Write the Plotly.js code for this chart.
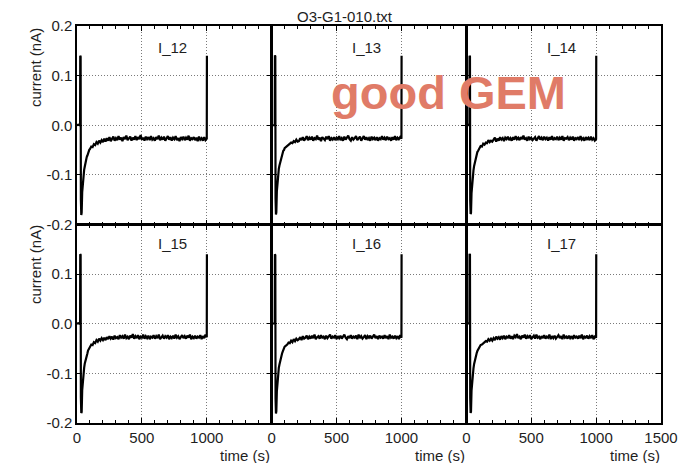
<!DOCTYPE html>
<html>
<head>
<meta charset="utf-8">
<script src="https://cdn.plot.ly/plotly-3.0.1.min.js"></script>
<style>html,body{margin:0;padding:0;background:#fff;}#chart{width:683px;height:463px;}</style>
</head>
<body>
<div id="chart"></div>
<script>
const panelNames = ["I_12", "I_13", "I_14", "I_15", "I_16", "I_17"];
const xTicksInner = [0, 500, 1000];
const xTicksLast = [0, 500, 1000, 1500];
const yTicksTop = [-0.2, -0.1, 0, 0.1, 0.2];
const yTickTextTop = ["-0.2", "-0.1", "0.0", "0.1", "0.2"];
const yTicksBottom = [-0.2, -0.1, 0, 0.1];
const yTickTextBottom = ["-0.2", "-0.1", "0.0", "0.1"];

const time = [0,10,20,24,25,28,30,33,36,40,45,50,55,60,65,70,75,80,85,90,95,100,110,120,130,140,150,160,170,180,190,200,
210,220,230,240,250,260,270,280,290,300,
310,320,330,340,350,360,370,380,390,400,
410,420,430,440,450,460,470,480,490,500,
510,520,530,540,550,560,570,580,590,600,
610,620,630,640,650,660,670,680,690,700,
710,720,730,740,750,760,770,780,790,800,
810,820,830,840,850,860,870,880,890,900,
910,920,930,940,950,960,970,980,990,1000,
1001];

const I_12 = [0.000,0.001,0.000,0.001,0.140,0.138,-0.150,-0.181,-0.176,-0.135,-0.112,-0.100,-0.090,-0.083,-0.074,-0.069,-0.064,-0.061,-0.055,-0.053,-0.049,-0.048,-0.043,-0.044,-0.038,-0.040,-0.034,-0.037,-0.031,-0.035,-0.030,-0.034,
-0.027,-0.033,-0.026,-0.031,-0.024,-0.032,-0.028,-0.023,-0.031,-0.026,
-0.030,-0.022,-0.029,-0.025,-0.032,-0.024,-0.028,-0.021,-0.030,-0.026,
-0.023,-0.031,-0.025,-0.029,-0.022,-0.030,-0.024,-0.028,-0.020,-0.029,
-0.025,-0.031,-0.023,-0.028,-0.024,-0.030,-0.022,-0.029,-0.026,-0.031,
-0.024,-0.028,-0.021,-0.030,-0.025,-0.029,-0.023,-0.031,-0.026,-0.022,
-0.029,-0.024,-0.031,-0.025,-0.028,-0.022,-0.030,-0.026,-0.032,-0.024,
-0.028,-0.023,-0.030,-0.025,-0.029,-0.021,-0.031,-0.026,-0.028,-0.024,
-0.030,-0.025,-0.032,-0.023,-0.029,-0.026,-0.031,-0.024,-0.030,-0.027,
0.140];

const I_13 = [0.000,0.000,0.001,0.000,0.141,0.139,-0.148,-0.180,-0.175,-0.133,-0.110,-0.099,-0.088,-0.081,-0.075,-0.067,-0.065,-0.059,-0.056,-0.051,-0.050,-0.046,-0.044,-0.041,-0.039,-0.037,-0.035,-0.036,-0.032,-0.034,-0.029,-0.033,
-0.032,-0.026,-0.030,-0.024,-0.031,-0.027,-0.022,-0.030,-0.025,-0.029,
-0.023,-0.031,-0.026,-0.028,-0.021,-0.029,-0.025,-0.032,-0.024,-0.027,
-0.030,-0.023,-0.028,-0.022,-0.031,-0.026,-0.029,-0.024,-0.030,-0.025,
-0.028,-0.022,-0.030,-0.026,-0.031,-0.023,-0.029,-0.025,-0.021,-0.028,
-0.031,-0.024,-0.029,-0.026,-0.022,-0.030,-0.027,-0.023,-0.031,-0.025,
-0.022,-0.029,-0.024,-0.030,-0.026,-0.031,-0.023,-0.028,-0.025,-0.030,
-0.024,-0.031,-0.026,-0.028,-0.022,-0.029,-0.025,-0.030,-0.023,-0.028,
-0.026,-0.031,-0.024,-0.029,-0.022,-0.030,-0.025,-0.028,-0.024,-0.027,
0.140];

const I_14 = [0.000,0.001,0.000,0.000,0.140,0.138,-0.152,-0.179,-0.177,-0.137,-0.114,-0.101,-0.091,-0.082,-0.076,-0.068,-0.063,-0.060,-0.054,-0.052,-0.050,-0.047,-0.042,-0.043,-0.037,-0.039,-0.035,-0.036,-0.030,-0.034,-0.031,-0.033,
-0.030,-0.025,-0.033,-0.027,-0.031,-0.024,-0.029,-0.026,-0.032,-0.025,
-0.028,-0.023,-0.030,-0.026,-0.031,-0.024,-0.029,-0.022,-0.028,-0.025,
-0.030,-0.024,-0.028,-0.021,-0.029,-0.026,-0.031,-0.023,-0.028,-0.025,
-0.030,-0.026,-0.024,-0.031,-0.027,-0.022,-0.029,-0.025,-0.030,-0.023,
-0.028,-0.025,-0.031,-0.024,-0.029,-0.022,-0.030,-0.026,-0.028,-0.023,
-0.030,-0.025,-0.029,-0.022,-0.031,-0.026,-0.027,-0.024,-0.030,-0.025,
-0.029,-0.023,-0.031,-0.026,-0.028,-0.024,-0.030,-0.022,-0.029,-0.026,
-0.031,-0.024,-0.028,-0.025,-0.030,-0.023,-0.029,-0.026,-0.031,-0.028,
0.140];

const I_15 = [0.000,0.001,0.000,0.001,0.140,0.139,-0.149,-0.180,-0.178,-0.134,-0.111,-0.098,-0.089,-0.080,-0.073,-0.068,-0.062,-0.060,-0.054,-0.052,-0.048,-0.047,-0.042,-0.043,-0.037,-0.039,-0.033,-0.036,-0.030,-0.034,-0.029,-0.033,
-0.028,-0.033,-0.027,-0.031,-0.025,-0.030,-0.026,-0.032,-0.024,-0.029,
-0.027,-0.031,-0.023,-0.028,-0.025,-0.030,-0.022,-0.029,-0.026,-0.031,
-0.024,-0.028,-0.021,-0.030,-0.025,-0.029,-0.023,-0.031,-0.026,-0.028,
-0.022,-0.030,-0.025,-0.029,-0.024,-0.031,-0.026,-0.028,-0.023,-0.030,
-0.025,-0.029,-0.022,-0.031,-0.027,-0.024,-0.030,-0.025,-0.028,-0.023,
-0.031,-0.026,-0.029,-0.024,-0.030,-0.022,-0.028,-0.025,-0.031,-0.026,
-0.023,-0.029,-0.025,-0.030,-0.024,-0.028,-0.022,-0.031,-0.026,-0.029,
-0.024,-0.030,-0.026,-0.028,-0.023,-0.031,-0.025,-0.029,-0.022,-0.027,
0.140];

const I_16 = [0.000,0.000,0.000,0.001,0.140,0.138,-0.151,-0.181,-0.176,-0.136,-0.113,-0.100,-0.089,-0.082,-0.075,-0.069,-0.063,-0.060,-0.056,-0.052,-0.050,-0.046,-0.044,-0.042,-0.038,-0.039,-0.034,-0.037,-0.031,-0.035,-0.030,-0.033,
-0.031,-0.027,-0.033,-0.025,-0.030,-0.028,-0.024,-0.031,-0.026,-0.030,
-0.024,-0.029,-0.022,-0.031,-0.027,-0.025,-0.030,-0.023,-0.028,-0.026,
-0.031,-0.024,-0.029,-0.025,-0.022,-0.030,-0.026,-0.028,-0.023,-0.031,
-0.025,-0.029,-0.024,-0.030,-0.026,-0.022,-0.028,-0.031,-0.025,-0.029,
-0.023,-0.030,-0.026,-0.028,-0.024,-0.031,-0.022,-0.029,-0.025,-0.030,
-0.027,-0.023,-0.031,-0.025,-0.028,-0.024,-0.030,-0.026,-0.022,-0.029,
-0.025,-0.031,-0.024,-0.028,-0.026,-0.030,-0.023,-0.029,-0.025,-0.031,
-0.022,-0.028,-0.026,-0.030,-0.024,-0.029,-0.025,-0.031,-0.023,-0.028,
0.140];

const I_17 = [0.000,0.001,0.001,0.000,0.141,0.139,-0.150,-0.180,-0.177,-0.135,-0.112,-0.099,-0.090,-0.081,-0.074,-0.068,-0.064,-0.059,-0.055,-0.053,-0.049,-0.047,-0.043,-0.042,-0.039,-0.038,-0.035,-0.036,-0.031,-0.034,-0.030,-0.034,
-0.029,-0.033,-0.026,-0.030,-0.027,-0.032,-0.025,-0.029,-0.024,-0.031,
-0.026,-0.028,-0.023,-0.030,-0.025,-0.031,-0.024,-0.027,-0.021,-0.029,
-0.026,-0.031,-0.024,-0.028,-0.022,-0.030,-0.025,-0.029,-0.023,-0.031,
-0.027,-0.024,-0.030,-0.022,-0.028,-0.026,-0.031,-0.025,-0.029,-0.023,
-0.030,-0.026,-0.028,-0.022,-0.031,-0.025,-0.029,-0.024,-0.030,-0.026,
-0.023,-0.029,-0.025,-0.031,-0.022,-0.028,-0.026,-0.030,-0.024,-0.029,
-0.025,-0.031,-0.023,-0.028,-0.026,-0.030,-0.024,-0.029,-0.022,-0.031,
-0.026,-0.028,-0.024,-0.030,-0.025,-0.029,-0.023,-0.031,-0.026,-0.028,
0.140];

const panelValues = [I_12, I_13, I_14, I_15, I_16, I_17];

// pixel helpers for placing text (plot area: x 77..661, y 26..423)
const L = 77, R = 22, T = 26, B = 40, W = 683, H = 463;
const pw = W - L - R, ph = H - T - B;
const px = v => (v - L) / pw;
const py = v => (H - B - v) / ph;

const FONT = "Liberation Sans, Arial, Helvetica, sans-serif";
const TXT = "#1e1e1e";
const GRID = "#7a7a7a";

const data = [];
const layout = {
  width: W, height: H,
  margin: {l: L, r: R, t: T, b: B},
  paper_bgcolor: "#fff", plot_bgcolor: "#fff",
  showlegend: false,
  font: {family: FONT, size: 15, color: TXT},
  annotations: []
};

for (let k = 0; k < 6; k++) {
  const c = k % 3, r = Math.floor(k / 3);
  const n = k + 1;
  data.push({
    type: "scatter", mode: "lines",
    x: time, y: panelValues[k],
    xaxis: "x" + n, yaxis: "y" + n,
    line: {color: "#000", width: 2.2},
    hoverinfo: "skip"
  });
  layout["xaxis" + n] = {
    domain: [c / 3, (c + 1) / 3],
    range: [0, 1500],
    anchor: "y" + n,
    tickmode: "array",
    tickvals: c < 2 ? xTicksInner : xTicksLast,
    showticklabels: r === 1,
    ticks: "inside", ticklen: 5, tickwidth: 1, tickcolor: "#000",
    minor: {ticks: "inside", dtick: 100, ticklen: 3, tickwidth: 1, tickcolor: "#000", showgrid: false},
    showline: true, linewidth: 1.6, linecolor: "#000", mirror: "ticks",
    showgrid: true, gridcolor: GRID, gridwidth: 1, griddash: "1px,2px",
    zeroline: false,
    tickfont: {family: FONT, size: 15, color: TXT},
    fixedrange: true
  };
  layout["yaxis" + n] = {
    domain: r === 0 ? [0.5, 1] : [0, 0.5],
    range: [-0.2, 0.2],
    anchor: "x" + n,
    tickmode: "array",
    tickvals: r === 0 ? yTicksTop : yTicksBottom,
    ticktext: r === 0 ? yTickTextTop : yTickTextBottom,
    showticklabels: c === 0,
    ticks: "inside", ticklen: 5, tickwidth: 1, tickcolor: "#000",
    showline: true, linewidth: 1.6, linecolor: "#000", mirror: "ticks",
    showgrid: true, gridcolor: GRID, gridwidth: 1, griddash: "1px,2px",
    zeroline: false,
    tickfont: {family: FONT, size: 15, color: TXT},
    fixedrange: true
  };
  // panel label
  layout.annotations.push({
    text: panelNames[k], xref: "paper", yref: "paper",
    x: c / 3 + px(172), y: r === 0 ? py(47) : py(243),
    xanchor: "center", yanchor: "middle", showarrow: false,
    font: {family: FONT, size: 15, color: TXT}
  });
}

// x titles
[245, 440, 635].forEach(v => layout.annotations.push({
  text: "time (s)", xref: "paper", yref: "paper", x: px(v), y: py(455),
  xanchor: "center", yanchor: "middle", showarrow: false,
  font: {family: FONT, size: 15, color: TXT}
}));
// y titles
[68, 265].forEach(v => layout.annotations.push({
  text: "current (nA)", xref: "paper", yref: "paper", x: px(35), y: py(v),
  xanchor: "center", yanchor: "middle", textangle: -90, showarrow: false,
  font: {family: FONT, size: 15, color: TXT}
}));
// title
layout.annotations.push({
  text: "O3-G1-010.txt", xref: "paper", yref: "paper", x: px(345), y: py(16),
  xanchor: "center", yanchor: "middle", showarrow: false,
  font: {family: FONT, size: 15, color: TXT}
});
// overlay text
layout.annotations.push({
  text: "<b>good GEM</b>", xref: "paper", yref: "paper", x: px(329), y: py(92),
  xanchor: "left", yanchor: "middle", showarrow: false,
  font: {family: FONT, size: 47, color: "#E07B67"}
});

Plotly.newPlot("chart", data, layout, {displayModeBar: false, staticPlot: true});
</script>
</body>
</html>
